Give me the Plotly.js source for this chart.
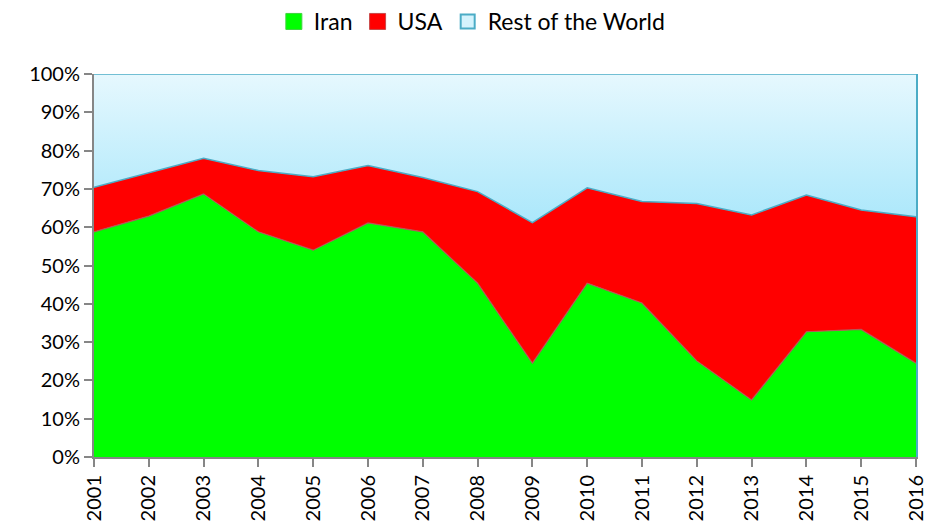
<!DOCTYPE html>
<html>
<head>
<meta charset="utf-8">
<script src="https://cdn.plot.ly/plotly-3.0.1.min.js"></script>
<style>html,body{margin:0;padding:0;background:#fff;}#chart{width:928px;height:528px;}</style>
</head>
<body>
<div id="chart"></div>
<script>
const years = ['2001','2002','2003','2004','2005','2006','2007','2008','2009','2010','2011','2012','2013','2014','2015','2016'];
const iran = [58.8, 62.9, 68.7, 58.8, 54.0, 61.1, 58.8, 45.4, 24.5, 45.4, 40.2, 25.1, 14.9, 32.7, 33.3, 24.5];
const usa  = [11.6, 11.2, 9.3, 16.0, 19.2, 15.0, 14.2, 23.9, 36.7, 24.9, 26.5, 41.1, 48.3, 35.7, 31.2, 38.2];
const rest = [29.6, 25.9, 22.0, 25.2, 26.8, 23.9, 27.0, 30.7, 38.8, 29.7, 33.3, 33.8, 36.8, 31.6, 35.5, 37.3];
const seriesNames = ['Iran', 'USA', 'Rest of the World'];
const yTickVals = [0,10,20,30,40,50,60,70,80,90,100];
const yTickText = ['0%','10%','20%','30%','40%','50%','60%','70%','80%','90%','100%'];

const FONT = 'Lato, "Open Sans", "Liberation Sans", sans-serif';
const empty = years.map(() => null);
const traces = [
  {x: years, y: iran, name: seriesNames[0], type: 'scatter', mode: 'lines', stackgroup: 'one', showlegend: false,
   fillcolor: '#00ff00', line: {color: '#b05a5a', width: 1.2}},
  {x: years, y: usa, name: seriesNames[1], type: 'scatter', mode: 'lines', stackgroup: 'one', showlegend: false,
   fillcolor: '#ff0000', line: {color: '#4bacc6', width: 1.5}},
  {x: years, y: rest, name: seriesNames[2], type: 'scatter', mode: 'lines', stackgroup: 'one', showlegend: false,
   fillcolor: '#c8f0fd',
   fillgradient: {type: 'vertical', start: 60, stop: 100,
     colorscale: [[0, '#a9e7fb'], [1, '#e6f8fe']]},
   line: {color: '#4bacc6', width: 1.5}},
  // legend entries (square swatches)
  {x: years, y: empty, name: seriesNames[0], type: 'scatter', mode: 'markers', hoverinfo: 'skip',
   marker: {symbol: 'square', size: 16, color: '#00ff00', line: {color: '#3fd43f', width: 1}}},
  {x: years, y: empty, name: seriesNames[1], type: 'scatter', mode: 'markers', hoverinfo: 'skip',
   marker: {symbol: 'square', size: 16, color: '#ff0000', line: {color: '#c84848', width: 1}}},
  {x: years, y: empty, name: seriesNames[2], type: 'scatter', mode: 'markers', hoverinfo: 'skip',
   marker: {symbol: 'square', size: 14, color: '#d4f3fd', line: {color: '#4bacc6', width: 2}}},
  {x: years, y: empty, yaxis: 'y2', showlegend: false, hoverinfo: 'skip', type: 'scatter', mode: 'lines'}
];

const layout = {
  width: 928, height: 528,
  margin: {l: 94, r: 12, t: 74, b: 71},
  paper_bgcolor: '#ffffff', plot_bgcolor: '#ffffff',
  font: {family: FONT, size: 20, color: '#000'},
  showlegend: true,
  legend: {orientation: 'h', x: 0.509, xref: 'container', xanchor: 'center', y: 1.0, yref: 'container', yanchor: 'top',
           font: {family: FONT, size: 23, color: '#000'}, traceorder: 'normal', itemwidth: 30},
  xaxis: {type: 'category', range: [0, years.length - 1], showgrid: false, zeroline: false,
          showline: true, linecolor: '#868686', linewidth: 2,
          ticks: 'outside', ticklen: 8, tickcolor: '#868686', tickwidth: 2,
          tickangle: -90, tickfont: {family: FONT, size: 20, color: '#000'}},
  yaxis: {range: [0, 100], tickvals: yTickVals, ticktext: yTickText, showgrid: false, zeroline: false,
          showline: true, linecolor: '#868686', linewidth: 2,
          ticks: 'outside', ticklen: 8, tickcolor: '#868686', tickwidth: 2,
          tickfont: {family: FONT, size: 20, color: '#000'}},
  yaxis2: {overlaying: 'y', side: 'right', range: [0, 100], showgrid: false, zeroline: false,
           showticklabels: false, ticks: '', showline: true, linecolor: '#4bacc6', linewidth: 2}
};

Plotly.newPlot('chart', traces, layout, {displayModeBar: false, staticPlot: true});
</script>
</body>
</html>
